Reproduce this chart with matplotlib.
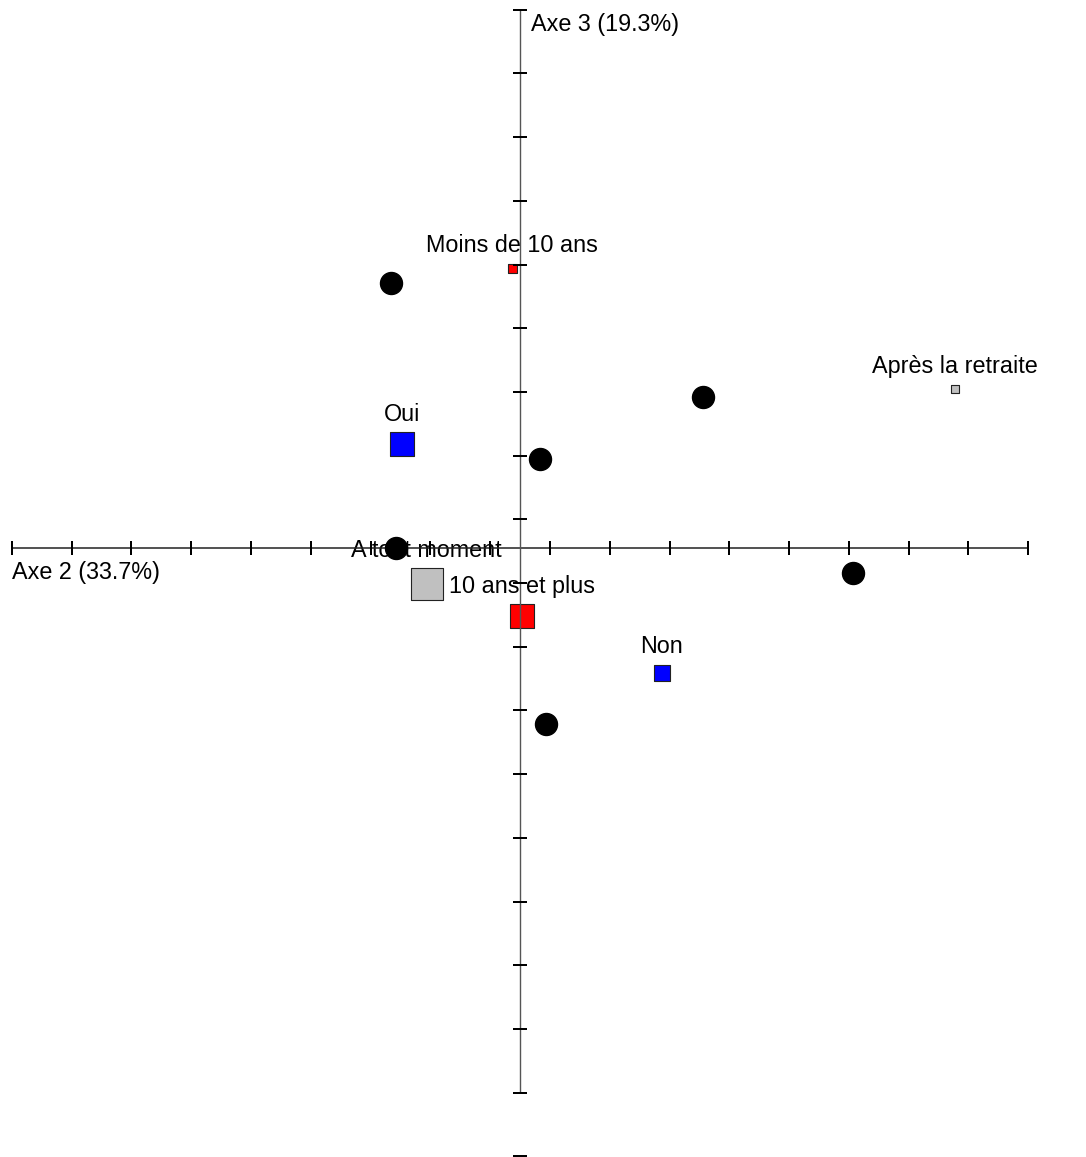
import numpy as np
import matplotlib
matplotlib.use('Agg')
import matplotlib.pyplot as plt

plt.rcParams['font.family'] = ['Liberation Sans', 'DejaVu Sans']

# Individuals (black dots) on axes 2 and 3
ind_x = [-0.216, 0.306, 0.033, -0.207, 0.557, 0.044]
ind_y = [0.416, 0.237, 0.140, 0.000, -0.039, -0.276]

# Modalities (squares)
mod_labels = ['Moins de 10 ans', 'Après la retraite', 'Oui', 'Non', 'A tout moment', '10 ans et plus']
mod_x = [-0.013, 0.727, -0.197, 0.237, -0.156, 0.003]
mod_y = [0.440, 0.250, 0.163, -0.196, -0.057, -0.107]
mod_colors = ['#ff0000', '#c0c0c0', '#0000ff', '#0000ff', '#c0c0c0', '#ff0000']
mod_size_px = [9, 8, 24, 16, 32, 24]

x_ticks = np.arange(-0.85, 0.851, 0.1)
y_ticks = 0.745 - 0.1 * np.arange(18)

X_LABEL = 'Axe 2 (33.7%)'
Y_LABEL = 'Axe 3 (19.3%)'


def main():
    dpi = 100
    fig = plt.figure(figsize=(10.86, 11.57), dpi=dpi)
    ax = fig.add_axes([0, 0, 1, 1])
    ax.set_xlim(-0.8696, 0.9465)
    ax.set_ylim(-0.956, 0.8603)
    ax.axis('off')

    px = 72 / dpi  # points per pixel
    y_top = 0.845

    # Axis lines
    ax.plot([-0.85, 0.85], [0, 0], color='#222222', lw=1.1, zorder=3)
    ax.plot([0, 0], [-0.853, y_top], color='#555555', lw=1.0, zorder=3)

    # Ticks
    ax.plot(x_ticks, np.zeros_like(x_ticks), ls='none', marker='|',
            ms=14 * px, mew=2 * px, color='black', zorder=3)
    ax.plot(np.zeros_like(y_ticks), y_ticks, ls='none', marker='_',
            ms=14 * px, mew=2 * px, color='black', zorder=3)
    ax.plot([0], [y_top], ls='none', marker='_', ms=14 * px, mew=2 * px,
            color='black', zorder=3)

    # Axis titles
    ax.annotate(X_LABEL, (-0.85, 0), xytext=(0, -24 * px), textcoords='offset points',
                ha='left', va='center', fontsize=16.8, zorder=1)
    ax.annotate(Y_LABEL, (0, y_top), xytext=(11 * px, -15 * px), textcoords='offset points',
                ha='left', va='center', fontsize=16.8, zorder=1)

    # Modalities
    for lab, x, y, c, s in zip(mod_labels, mod_x, mod_y, mod_colors, mod_size_px):
        ax.scatter([x], [y], marker='s', s=(s * px) ** 2, color=c,
                   edgecolors='#222222', linewidths=0.8, zorder=2)
        ax.annotate(lab, (x, y), xytext=(0, (s / 2 + 18) * px), textcoords='offset points',
                    ha='center', va='center', fontsize=16.8, zorder=1)

    # Individuals
    ax.scatter(ind_x, ind_y, s=(22 * px) ** 2, color='black', zorder=4)

    fig.savefig('out.png', dpi=dpi)
    plt.close(fig)


if __name__ == '__main__':
    main()
